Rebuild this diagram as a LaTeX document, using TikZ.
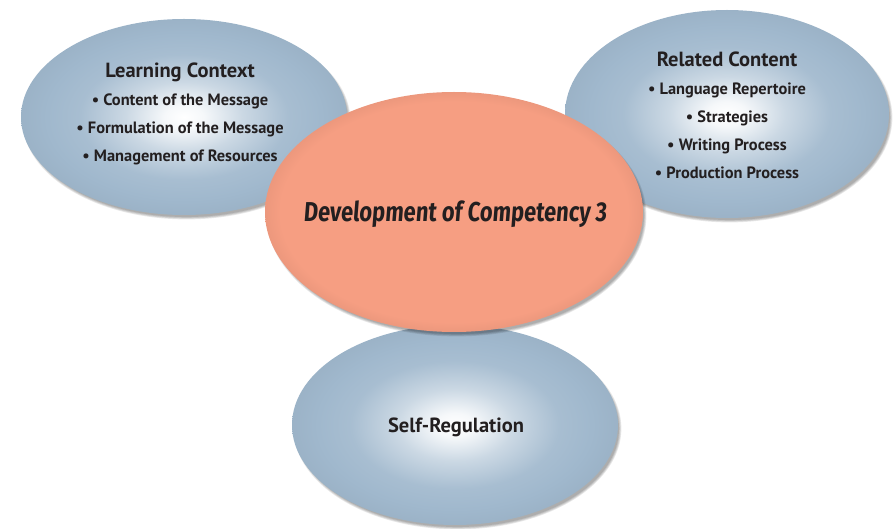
\documentclass[tikz,border=0pt]{standalone}
\usepackage{fontspec}
\setmainfont{PT Sans}
\newfontfamily\compfont[FakeStretch=0.8, FakeSlant=0.08]{Fira Sans}
\usetikzlibrary{shapes.geometric}
\definecolor{bl}{RGB}{160,184,205}
\definecolor{sal}{RGB}{246,158,130}
\definecolor{ink}{RGB}{35,31,32}
\pgfdeclareradialshading{blueball}{\pgfpoint{0bp}{0bp}}{color(0bp)=(white); color(3bp)=(white!90!bl); color(9bp)=(bl!55!white); color(16bp)=(bl!92!white); color(21bp)=(bl); color(25bp)=(bl!97!black); color(50bp)=(bl!97!black)}
\pgfdeclareradialshading{salball}{\pgfpoint{0bp}{0bp}}{color(0bp)=(sal); color(23bp)=(sal); color(25bp)=(sal!96!black); color(50bp)=(sal!96!black)}
\tikzset{
  blueell/.style={ellipse, inner sep=0pt, shading=blueball},
  salell/.style={ellipse, inner sep=0pt, shading=salball},
  head/.style={anchor=base, font=\bfseries\fontsize{20.5}{22}\selectfont, text=ink},
  item/.style={anchor=base, font=\bfseries\fontsize{16.4}{18}\selectfont, text=ink},
  comptext/.style={anchor=base, font=\compfont\bfseries\fontsize{27.3}{29}\selectfont, text=ink},
}
\newcommand{\softshadow}[3]{%
  \foreach \k in {0,...,3}{%
    \fill[black, opacity=0.09] ([shift={(2.5,3.5)}]#1.center) ellipse [x radius={#2pt-1.5pt+0.8*\k pt}, y radius={#3pt-1.5pt+0.8*\k pt}];
  }%
}
\begin{document}
\begin{tikzpicture}[x=1pt, y=-1pt]
\useasboundingbox (0,0) rectangle (895,529);
\fill[white] (0,0) rectangle (895,529);
% positions
\coordinate (lcc) at (184,117);
\coordinate (rcc) at (727,114);
\coordinate (src) at (455,425);
\coordinate (dcc) at (454,212);
% shadows
\softshadow{lcc}{163}{98}
\softshadow{rcc}{162}{104}
\softshadow{src}{163}{100}
% blue ellipses
\node[blueell, minimum width=326pt, minimum height=196pt] (lc) at (lcc) {};
\node[blueell, minimum width=324pt, minimum height=208pt] (rc) at (rcc) {};
\node[blueell, minimum width=326pt, minimum height=200pt] (sr) at (src) {};
% central
\softshadow{dcc}{189}{120}
\node[salell, minimum width=378pt, minimum height=240pt] (dc) at (dcc) {};
% texts
\node[head] (lc0) at (180,78) {Learning Context};
\node[item] (lc1) at (180,106) {• Content of the Message};
\node[item] (lc2) at (180,134) {• Formulation of the Message};
\node[item] (lc3) at (180,162) {• Management of Resources};
\node[head] (rc0) at (727,67) {Related Content};
\node[item] (rc1) at (727,95) {• Language Repertoire};
\node[item] (rc2) at (727,123) {• Strategies};
\node[item] (rc3) at (727,151) {• Writing Process};
\node[item] (rc4) at (727,179) {• Production Process};
\node[head] (sr0) at (456,432) {Self-Regulation};
\node[comptext] (dc0) at (455,222) {Development of Competency 3};
\end{tikzpicture}
\end{document}
